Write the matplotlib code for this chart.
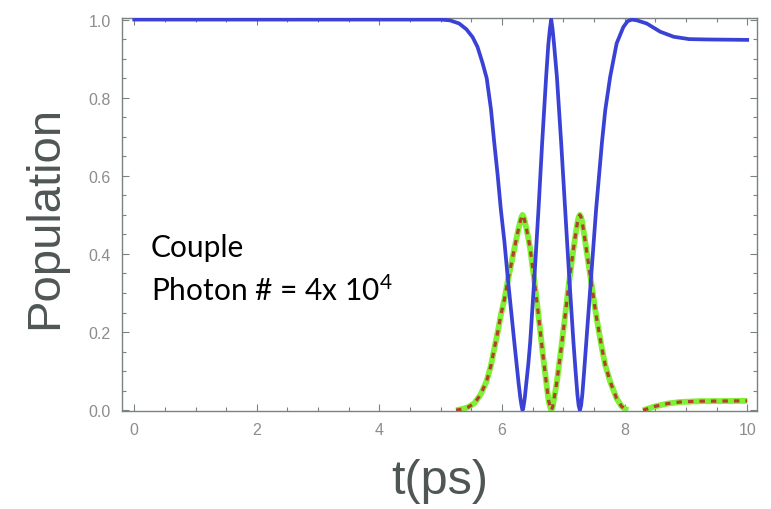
import matplotlib
matplotlib.use("Agg")
import matplotlib.pyplot as plt
import numpy as np
from matplotlib.ticker import MultipleLocator, FormatStrFormatter

# ground-state population (blue)
blue_t = [0.00, 5.00, 5.15, 5.30, 5.42, 5.52, 5.60, 5.68, 5.75, 5.82,
          5.87, 5.93, 5.98, 6.04, 6.09, 6.145, 6.20, 6.24, 6.27, 6.30,
          6.32, 6.335, 6.35, 6.37, 6.40, 6.43, 6.46, 6.53, 6.595, 6.655,
          6.72, 6.755, 6.78, 6.803, 6.825, 6.85, 6.895, 6.965, 7.03, 7.095,
          7.165, 7.20, 7.23, 7.25, 7.27, 7.29, 7.31, 7.34, 7.375, 7.455,
          7.535, 7.63, 7.685, 7.765, 7.87, 7.98, 8.05, 8.12, 8.20, 8.36,
          8.58, 8.80, 9.05, 9.35, 10.0]
blue_p = [1.0, 1.0, 0.998, 0.99, 0.975, 0.955, 0.93, 0.89, 0.85, 0.77,
          0.69, 0.60, 0.515, 0.43, 0.345, 0.26, 0.175, 0.115, 0.07, 0.03,
          0.01, 0.0, 0.008, 0.03, 0.075, 0.12, 0.175, 0.344, 0.514, 0.685,
          0.854, 0.935, 0.975, 1.0, 0.975, 0.935, 0.854, 0.685, 0.514, 0.344,
          0.175, 0.10, 0.04, 0.012, 0.0, 0.012, 0.04, 0.10, 0.175, 0.344,
          0.514, 0.685, 0.769, 0.854, 0.939, 0.981, 0.996, 1.0, 0.998, 0.99,
          0.969, 0.956, 0.95, 0.949, 0.948]

# the two excited-state populations coincide (green solid + red dashed);
# flat zero stretches sit on the frame and are left out (NaN gap)
exc_t = [5.25, 5.35, 5.45, 5.55, 5.65, 5.75, 5.82, 5.87,
         5.93, 5.98, 6.04, 6.09, 6.145, 6.20, 6.24, 6.27, 6.30, 6.32,
         6.335, 6.35, 6.37, 6.40, 6.43, 6.46, 6.53, 6.595, 6.655, 6.72,
         6.76, 6.785, 6.803, 6.825, 6.85, 6.895, 6.965, 7.03, 7.095, 7.165,
         7.20, 7.23, 7.25, 7.27, 7.29, 7.31, 7.34, 7.375, 7.455, 7.535,
         7.63, 7.685, 7.765, 7.87, 7.95, 8.02, 8.06, 8.20, 8.30, 8.40, 8.50,
         8.70, 8.90, 9.20, 10.0]
exc_p = [0.0, 0.003, 0.008, 0.018, 0.04, 0.075, 0.115, 0.155,
         0.20, 0.243, 0.285, 0.328, 0.37, 0.413, 0.443, 0.465, 0.485, 0.495,
         0.5, 0.496, 0.485, 0.463, 0.44, 0.413, 0.328, 0.243, 0.158, 0.073,
         0.025, 0.008, 0.0, 0.008, 0.03, 0.073, 0.158, 0.243, 0.328, 0.413,
         0.45, 0.48, 0.494, 0.5, 0.494, 0.48, 0.45, 0.413, 0.328, 0.243,
         0.158, 0.115, 0.073, 0.03, 0.01, 0.002, 0.0, np.nan, 0.0, 0.005, 0.01,
         0.017, 0.021, 0.023, 0.024]

plt.rcParams['font.family'] = ['Liberation Sans', 'DejaVu Sans']
plt.rcParams['mathtext.fontset'] = 'custom'
plt.rcParams['mathtext.rm'] = 'Lato'

fig = plt.figure(figsize=(7.71, 5.10), dpi=100)
ax = fig.add_axes([122 / 771, 1 - 412 / 510, 635 / 771, 393 / 510])

ax.plot(exc_t, exc_p, color='#80f035', lw=4.2, solid_capstyle='butt', zorder=2)
ax.plot(exc_t, exc_p, color='#b3402c', lw=2.3, dashes=(1.7, 1.9), zorder=3)
ax.plot(blue_t, blue_p, color='#3a42d6', lw=2.7, zorder=4)

ax.set_xlim(-0.2, 10.16)
ax.set_ylim(-0.002, 1.004)

ax.xaxis.set_major_locator(MultipleLocator(2))
ax.xaxis.set_minor_locator(MultipleLocator(0.5))
ax.yaxis.set_major_locator(MultipleLocator(0.2))
ax.yaxis.set_minor_locator(MultipleLocator(0.05))
ax.yaxis.set_major_formatter(FormatStrFormatter('%.1f'))

frame = '#7a8282'
for s in ax.spines.values():
    s.set_color(frame)
    s.set_linewidth(1.0)
ax.tick_params(which='both', direction='in', top=True, right=True,
               color=frame, width=0.8)
ax.tick_params(which='major', length=5, labelsize=11.5, labelcolor='#8c8c8c', pad=8)
ax.tick_params(which='minor', length=2.8)

fig.text(45 / 771, 1 - 217 / 510, 'Population', rotation=90, fontsize=34,
         color='#4f5656', ha='center', va='center')
fig.text(440 / 771, 1 - 482 / 510, 't(ps)', fontsize=35,
         color='#4f5656', ha='center', va='center')

fig.text(151 / 771, 1 - 248 / 510, 'Couple', fontsize=21.5, family='Lato',
         color='black', ha='left', va='center')
fig.text(151 / 771, 1 - 291 / 510, r'Photon # = 4x 10$\mathregular{^4}$', fontsize=21.5,
         family='Lato', color='black', ha='left', va='center')

fig.savefig('out.png', dpi=100)
